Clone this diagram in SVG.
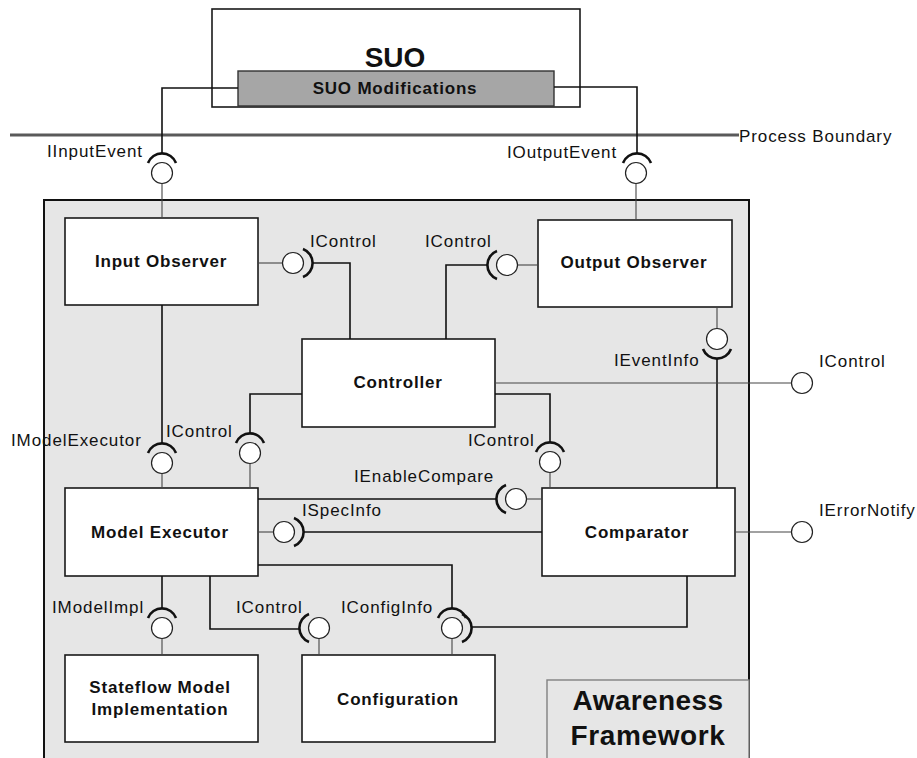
<svg xmlns="http://www.w3.org/2000/svg" width="917" height="758" viewBox="0 0 917 758">
<style>
  .box { fill: #ffffff; stroke: #1a1a1a; stroke-width: 1.6; }
  .lbl { font-family: "Liberation Sans", Arial, sans-serif; font-size: 17px; letter-spacing: 0.9px; fill: #111; }
  .title { font-family: "Liberation Sans", Arial, sans-serif; font-size: 17px; font-weight: bold; letter-spacing: 0.8px; fill: #111; text-anchor: middle; }
  .wire { fill: none; stroke: #111; stroke-width: 1.6; }
  .stem { fill: none; stroke: #444; stroke-width: 1.1; }
  .ball { fill: #ffffff; stroke: #222; stroke-width: 1.2; }
  .sock { fill: none; stroke: #111; stroke-width: 2.6; }
</style>

<!-- Process boundary -->
<g id="process-boundary">
  <line x1="10" y1="135" x2="739" y2="135" stroke="#5a5a5a" stroke-width="3.2"/>
  <text class="lbl" x="739" y="142">Process Boundary</text>
</g>

<!-- Framework container -->
<g id="awareness-framework">
  <rect x="44" y="200" width="705" height="570" fill="#e6e6e6" stroke="#111" stroke-width="2"/>
</g>

<g id="framework-label">
  <rect x="547" y="680" width="202" height="90" fill="#e6e6e6" stroke="#808080" stroke-width="1.4"/>
  <text x="648" y="710" font-family="Liberation Sans, Arial, sans-serif" font-size="28" font-weight="bold" text-anchor="middle" letter-spacing="0.4" fill="#111">Awareness</text>
  <text x="648" y="745" font-family="Liberation Sans, Arial, sans-serif" font-size="28" font-weight="bold" text-anchor="middle" letter-spacing="0.6" fill="#111">Framework</text>
</g>

<!-- SUO -->
<g id="suo">
  <rect class="box" x="212" y="9" width="368" height="98"/>
  <text x="395" y="67" font-family="Liberation Sans, Arial, sans-serif" font-size="28" font-weight="bold" text-anchor="middle" fill="#111">SUO</text>
</g>
<g id="suo-modifications">
  <rect x="238" y="71" width="316" height="35" fill="#a6a6a6" stroke="#333" stroke-width="1.4"/>
  <text class="title" x="395" y="94">SUO Modifications</text>
</g>

<!-- Components -->
<g id="input-observer">
  <rect class="box" x="65" y="218" width="193" height="87"/>
  <text class="title" x="161" y="267">Input Observer</text>
</g>
<g id="output-observer">
  <rect class="box" x="538" y="220" width="194" height="87"/>
  <text class="title" x="634" y="268">Output Observer</text>
</g>
<g id="controller">
  <rect class="box" x="302" y="339" width="193" height="88"/>
  <text class="title" x="398" y="388">Controller</text>
</g>
<g id="model-executor">
  <rect class="box" x="65" y="488" width="193" height="88"/>
  <text class="title" x="160" y="538">Model Executor</text>
</g>
<g id="comparator">
  <rect class="box" x="542" y="488" width="193" height="88"/>
  <text class="title" x="637" y="538">Comparator</text>
</g>
<g id="stateflow-model">
  <rect class="box" x="65" y="655" width="193" height="87"/>
  <text class="title" x="160" y="693">Stateflow Model</text>
  <text class="title" x="160" y="715">Implementation</text>
</g>
<g id="configuration">
  <rect class="box" x="302" y="655" width="193" height="87"/>
  <text class="title" x="398" y="705">Configuration</text>
</g>

<!-- Connectors -->
<g id="connectors">
  <path class="wire" d="M238,88 H162 V153.4"/>
  <path class="stem" d="M162,183.5 V218"/>
  <path class="wire" d="M554,87 H637 V153.4"/>
  <path class="stem" d="M636,183.5 V220"/>
  <path class="stem" d="M258,263 H282.5"/>
  <path class="wire" d="M312.6,263 H350 V339"/>
  <path class="stem" d="M538,265 H517.5"/>
  <path class="wire" d="M487.4,265 H446 V339"/>
  <path class="stem" d="M717,307 V328.5"/>
  <path class="wire" d="M717,358.6 V488"/>
  <path class="stem" d="M495,383 H791.5"/>
  <path class="wire" d="M162,305 V443.4"/>
  <path class="stem" d="M162,473.5 V488"/>
  <path class="wire" d="M302,394 H250 V433.4"/>
  <path class="stem" d="M250,463.5 V488"/>
  <path class="wire" d="M495,394 H550 V442.4"/>
  <path class="stem" d="M550,472.5 V488"/>
  <path class="wire" d="M258,499 H496.4"/>
  <path class="stem" d="M526.5,499 H542"/>
  <path class="stem" d="M258,532 H273.5"/>
  <path class="wire" d="M303.6,532 H542"/>
  <path class="stem" d="M735,532 H791.5"/>
  <path class="wire" d="M162,576 V608.4"/>
  <path class="stem" d="M162,638.5 V655"/>
  <path class="wire" d="M210,576 V629 H299.4"/>
  <path class="stem" d="M319,638.5 V655"/>
  <path class="wire" d="M258,565 H452 V608.4"/>
  <path class="wire" d="M687,576 V627 H471.6"/>
  <path class="stem" d="M452,638.5 V655"/>
</g>

<!-- Interfaces (ball and socket) -->
<g id="iinputevent">
  <circle class="ball" cx="162" cy="173" r="10.5"/>
  <path class="sock" d="M148,163 A15,15 0 0 1 176,163"/>
  <text class="lbl" x="47" y="157">IInputEvent</text>
</g>
<g id="ioutputevent">
  <circle class="ball" cx="636" cy="173" r="10.5"/>
  <path class="sock" d="M623,163 A15,15 0 0 1 651,163"/>
  <text class="lbl" x="507" y="158">IOutputEvent</text>
</g>
<g id="icontrol-input">
  <circle class="ball" cx="293" cy="263" r="10.5"/>
  <path class="sock" d="M303,249 A15,15 0 0 1 303,277"/>
  <text class="lbl" x="310" y="247">IControl</text>
</g>
<g id="icontrol-output">
  <circle class="ball" cx="507" cy="265" r="10.5"/>
  <path class="sock" d="M497,251 A15,15 0 0 0 497,279"/>
  <text class="lbl" x="425" y="247">IControl</text>
</g>
<g id="ieventinfo">
  <circle class="ball" cx="717" cy="339" r="10.5"/>
  <path class="sock" d="M703,349 A15,15 0 0 0 731,349"/>
  <text class="lbl" x="614" y="366">IEventInfo</text>
</g>
<g id="icontrol-external">
  <circle class="ball" cx="802" cy="383" r="10.5"/>
  <text class="lbl" x="819" y="367">IControl</text>
</g>
<g id="imodelexecutor">
  <circle class="ball" cx="162" cy="463" r="10.5"/>
  <path class="sock" d="M148,453 A15,15 0 0 1 176,453"/>
  <text class="lbl" x="11" y="446">IModelExecutor</text>
</g>
<g id="icontrol-executor">
  <circle class="ball" cx="250" cy="453" r="10.5"/>
  <path class="sock" d="M236,443 A15,15 0 0 1 264,443"/>
  <text class="lbl" x="166" y="437">IControl</text>
</g>
<g id="icontrol-comparator">
  <circle class="ball" cx="550" cy="462" r="10.5"/>
  <path class="sock" d="M536,452 A15,15 0 0 1 564,452"/>
  <text class="lbl" x="468" y="446">IControl</text>
</g>
<g id="ienablecompare">
  <circle class="ball" cx="516" cy="499" r="10.5"/>
  <path class="sock" d="M506,485 A15,15 0 0 0 506,513"/>
  <text class="lbl" x="354" y="482">IEnableCompare</text>
</g>
<g id="ispecinfo">
  <circle class="ball" cx="284" cy="532" r="10.5"/>
  <path class="sock" d="M294,518 A15,15 0 0 1 294,546"/>
  <text class="lbl" x="302" y="516">ISpecInfo</text>
</g>
<g id="ierrornotify">
  <circle class="ball" cx="802" cy="532" r="10.5"/>
  <text class="lbl" x="819" y="516">IErrorNotify</text>
</g>
<g id="imodelimpl">
  <circle class="ball" cx="162" cy="628" r="10.5"/>
  <path class="sock" d="M148,618 A15,15 0 0 1 176,618"/>
  <text class="lbl" x="52" y="613">IModelImpl</text>
</g>
<g id="icontrol-config">
  <circle class="ball" cx="319" cy="628" r="10.5"/>
  <path class="sock" d="M309,614 A15,15 0 0 0 309,642"/>
  <text class="lbl" x="236" y="613">IControl</text>
</g>
<g id="iconfiginfo">
  <circle class="ball" cx="452" cy="628" r="10.5"/>
  <path class="sock" d="M438,618 A15,15 0 0 1 466,618"/>
  <path class="sock" d="M462,614 A15,15 0 0 1 462,642"/>
  <text class="lbl" x="341" y="613">IConfigInfo</text>
</g>
</svg>
